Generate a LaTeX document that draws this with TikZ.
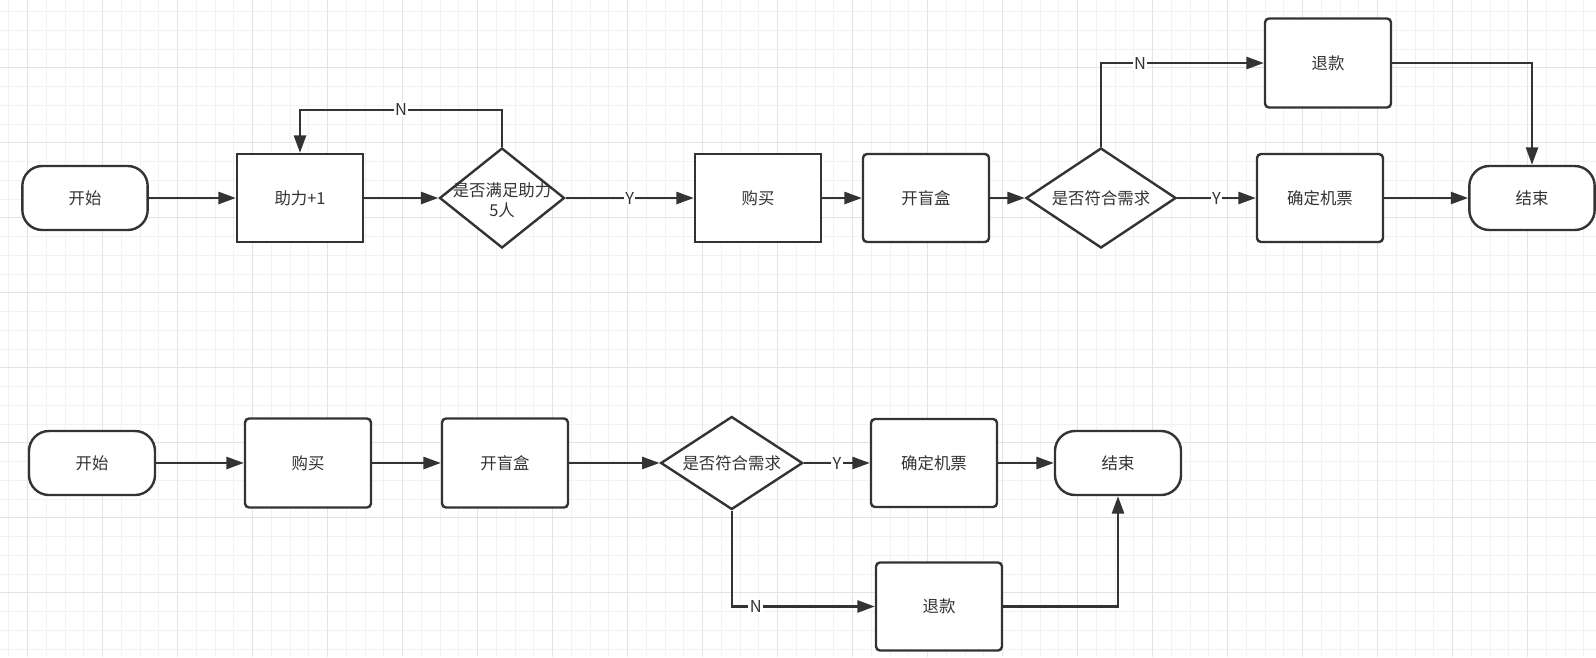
\documentclass[tikz,border=0pt]{standalone}
\usepackage{fontspec}
\setmainfont{Noto Sans CJK SC}
\usetikzlibrary{shapes.geometric,arrows.meta}
\definecolor{ink}{HTML}{333333}
\definecolor{gminor}{HTML}{F2F2F2}
\definecolor{gmajor}{HTML}{E3E3E3}
\begin{document}
\begin{tikzpicture}[x=0.75pt,y=-0.75pt,
  txtfont/.style={font=\fontsize{12.3pt}{14.6pt}\selectfont},
  base/.style={draw=ink, line width=1.8pt, fill=white, text=ink, txtfont, inner sep=0pt, align=center},
  proc/.style={base, rectangle, minimum width=94.5pt, minimum height=66pt},
  rproc/.style={proc, rounded corners=3pt},
  term/.style={base, rectangle, rounded corners=15pt, minimum width=94pt, minimum height=48pt},
  dec/.style={base, diamond, aspect=1},
  dtext/.style={text=ink, txtfont, align=center, inner sep=0pt},
  arr/.style={draw=ink, line width=1.8pt, -{Triangle[length=13pt,width=9pt]}},
  lab/.style={fill=white, text=ink, txtfont, inner sep=1pt},
  gmin/.style={draw=gminor, line width=0.75pt},
  gmaj/.style={draw=gmajor, line width=0.75pt}
]
\useasboundingbox (0,0) rectangle (1596,657);
\fill[white] (0,0) rectangle (1596,657);
% grid
\foreach \k in {0,...,85} \draw[gmin] ({8.8+18.75*\k},0) -- ({8.8+18.75*\k},657);
\foreach \k in {0,...,35} \draw[gmin] (0,{11.7+18.75*\k}) -- (1596,{11.7+18.75*\k});
\foreach \k in {0,...,21} \draw[gmaj] ({27.6+75*\k},0) -- ({27.6+75*\k},657);
\foreach \k in {0,...,8} \draw[gmaj] (0,{67.7+75*\k}) -- (1596,{67.7+75*\k});

% ---------- top flow ----------
\node[term] (s1) at (85,198) {开始};
\node[proc] (a1) at (300,198) {助力+1};
\node[dec, minimum width=93.75pt, minimum height=75pt] (d1) at (502,198) {};
\node[dtext] (d1t) at (502,200) {是否满足助力\\5人};
\node[proc] (b1) at (758,198) {购买};
\node[rproc] (o1) at (926,198) {开盲盒};
\node[dec, minimum width=112.5pt, minimum height=75pt] (d2) at (1101,198) {};
\node[dtext] (d2t) at (1101,198) {是否符合需求};
\node[rproc] (c1) at (1320,198) {确定机票};
\node[term] (e1) at (1532,198) {结束};
\node[rproc, minimum height=66.75pt] (r1) at (1328,63) {退款};

\draw[arr] (s1) -- (a1);
\draw[arr] (a1) -- (d1);
\draw[arr] (d1) -- node[lab]{Y} (b1);
\draw[arr] (d1.north) -- ++(0,-37) -| node[lab,pos=0.25]{N} (a1.north);
\draw[arr] (b1) -- (o1);
\draw[arr] (o1) -- (d2);
\draw[arr] (d2) -- node[lab]{Y} (c1);
\draw[arr] (d2.north) |- node[lab,pos=0.62]{N} (r1.west);
\draw[arr] (r1.east) -| (e1.north);
\draw[arr] (c1) -- (e1);

% ---------- bottom flow ----------
\node[term, minimum width=94.5pt] (s2) at (92,463) {开始};
\node[rproc, minimum height=66.75pt] (b2) at (308,463) {购买};
\node[rproc, minimum height=66.75pt] (o2) at (505,463) {开盲盒};
\node[dec, minimum width=106.5pt, minimum height=69.75pt] (d3) at (731.7,463) {};
\node[dtext] (d3t) at (731.7,463) {是否符合需求};
\node[rproc] (c2) at (934,463) {确定机票};
\node[term, minimum width=94.5pt] (e2) at (1118,463) {结束};
\node[rproc] (r2) at (939,606.5) {退款};

\draw[arr] (s2) -- (b2);
\draw[arr] (b2) -- (o2);
\draw[arr] (o2) -- (d3);
\draw[arr] (d3) -- node[lab]{Y} (c2);
\draw[arr] (c2) -- (e2);
\draw[arr] (d3.south) |- node[lab,pos=0.584]{N} (r2.west);
\draw[arr] (r2.east) -| (e2.south);
\end{tikzpicture}
\end{document}
